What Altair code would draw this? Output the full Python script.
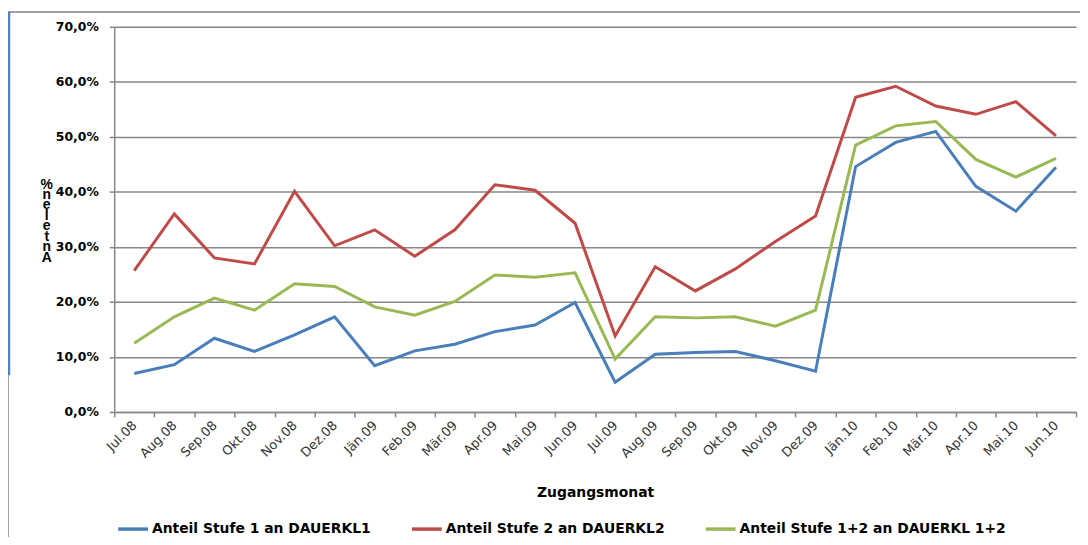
import altair as alt
import pandas as pd

months = ["Jul.08", "Aug.08", "Sep.08", "Okt.08", "Nov.08", "Dez.08", "Jän.09", "Feb.09",
          "Mär.09", "Apr.09", "Mai.09", "Jun.09", "Jul.09", "Aug.09", "Sep.09", "Okt.09",
          "Nov.09", "Dez.09", "Jän.10", "Feb.10", "Mär.10", "Apr.10", "Mai.10", "Jun.10"]

stufe1 = [7.0, 8.6, 13.4, 11.0, 14.0, 17.3, 8.4, 11.1, 12.3, 14.6, 15.8, 19.9,
          5.4, 10.5, 10.8, 11.0, 9.3, 7.4, 44.6, 49.0, 51.0, 41.0, 36.5, 44.5]
stufe2 = [25.7, 36.0, 28.0, 26.9, 40.1, 30.2, 33.1, 28.3, 33.1, 41.3, 40.3, 34.3,
          13.8, 26.4, 22.0, 26.0, 31.0, 35.6, 57.2, 59.2, 55.6, 54.1, 56.4, 50.2]
stufe12 = [12.5, 17.3, 20.7, 18.5, 23.3, 22.8, 19.1, 17.6, 20.1, 24.9, 24.5, 25.3,
           9.6, 17.3, 17.1, 17.3, 15.6, 18.5, 48.5, 52.0, 52.8, 45.9, 42.7, 46.1]

series_names = ["Anteil Stufe 1 an DAUERKL1", "Anteil Stufe 2 an DAUERKL2",
                "Anteil Stufe 1+2 an DAUERKL 1+2"]
series_colors = ["#4A7EBB", "#BE4B48", "#98B954"]

rows = []
for name, vals in zip(series_names, [stufe1, stufe2, stufe12]):
    for m, v in zip(months, vals):
        rows.append({"Monat": m, "Wert": v / 100.0, "Serie": name})
df = pd.DataFrame(rows)

FONT = "DejaVu Sans"
GRAY = "#878787"

lines = alt.Chart(df).mark_line(strokeWidth=3).encode(
    x=alt.X("Monat:N", sort=months,
            scale=alt.Scale(paddingInner=0, paddingOuter=0),
            axis=alt.Axis(title="Zugangsmonat", labelAngle=-45, labelAlign="right",
                          labelBaseline="middle", tickBand="extent", tickSize=5,
                          tickColor=GRAY, tickWidth=1.5, domainColor=GRAY, domainWidth=1.5,
                          labelFont=FONT, labelFontSize=13, labelColor="#333333",
                          labelPadding=6, titleFont=FONT, titleFontSize=14,
                          titleFontWeight="bold", titleColor="#000000", titlePadding=26,
                          grid=False)),
    y=alt.Y("Wert:Q", scale=alt.Scale(domain=[0, 0.7], nice=False),
            axis=alt.Axis(title=None, values=[0, 0.1, 0.2, 0.3, 0.4, 0.5, 0.6, 0.7],
                          labelExpr="replace(format(datum.value, '.1%'), '.', ',')",
                          labelFont=FONT, labelFontSize=12.5, labelFontWeight="bold",
                          labelColor="#000000", tickSize=5, tickColor=GRAY, tickWidth=1.5,
                          labelPadding=11, domainColor=GRAY, domainWidth=1.5,
                          grid=True, gridColor=GRAY, gridWidth=1.5)),
    color=alt.Color("Serie:N", sort=series_names,
                    scale=alt.Scale(domain=series_names, range=series_colors),
                    legend=alt.Legend(title=None, orient="none", legendX=2, legendY=489,
                                      direction="horizontal", columns=3, symbolType="stroke",
                                      symbolSize=900, symbolStrokeWidth=3.5,
                                      labelFont=FONT, labelFontSize=14, labelFontWeight="bold",
                                      labelColor="#000000", labelLimit=400, labelOffset=2,
                                      columnPadding=34)),
)

# decorative frame lines (outside the plot area)
frame_top = alt.Chart().mark_rule(color="#A0A0A0", strokeWidth=2).encode(
    x=alt.value(-111), x2=alt.value(975), y=alt.value(-15))
frame_left = alt.Chart().mark_rule(color="#A0A0A0", strokeWidth=2).encode(
    x=alt.value(-107), y=alt.value(-15), y2=alt.value(520))
frame_blue = alt.Chart().mark_rule(color="#4F81BD", strokeWidth=2.5).encode(
    x=alt.value(-106), y=alt.value(-15), y2=alt.value(351))

ylabel = alt.Chart().mark_text(font="Liberation Sans", fontSize=14, fontWeight="bold",
                               color="#000000", baseline="top", align="center",
                               lineHeight=10.5).encode(
    x=alt.value(-68), y=alt.value(152),
    text=alt.value(["%", "n", "e", "l", "e", "t", "n", "A"]))

chart = alt.layer(frame_top, frame_left, frame_blue, lines, ylabel).properties(
    width=969, height=388,
    autosize=alt.AutoSizeParams(type="none"),
    padding={"left": 107, "top": 17, "right": 4, "bottom": 124},
    background="#FFFFFF",
).configure_view(stroke=None)

chart.save("out.html", embed_options={"renderer": "svg", "actions": False})
